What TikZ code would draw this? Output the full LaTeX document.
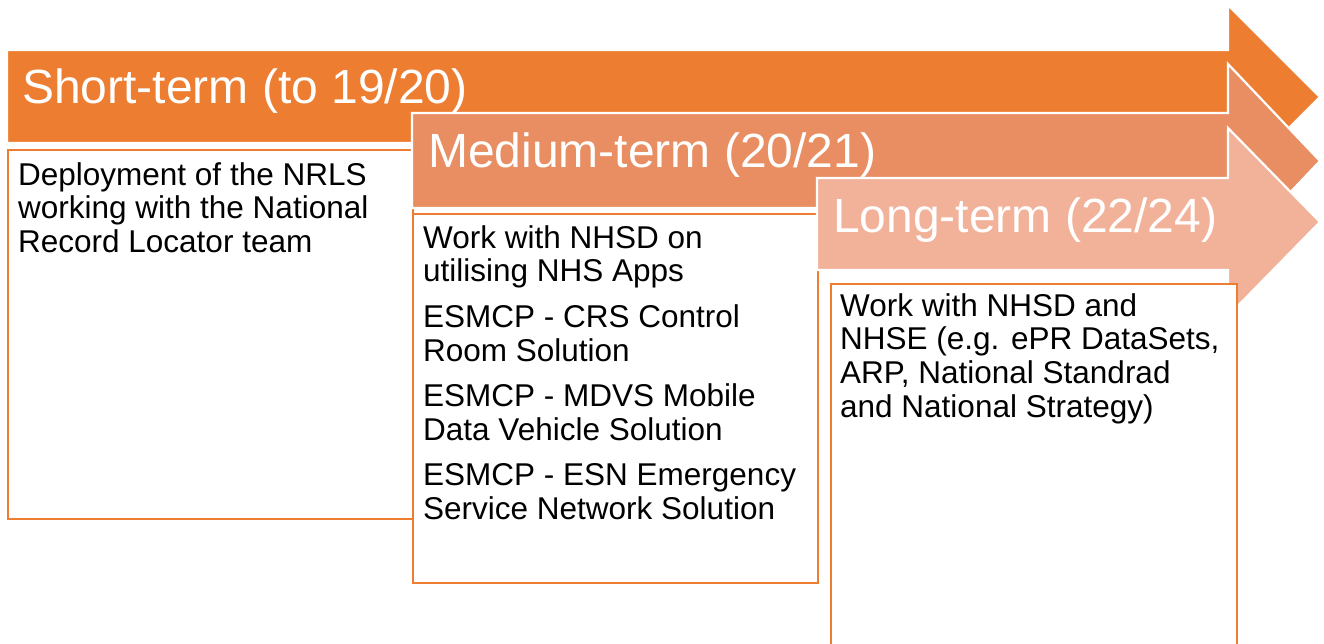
\documentclass[tikz,border=0pt]{standalone}
\usepackage{fontspec}
\setmainfont{Liberation Sans}
\definecolor{termdark}{HTML}{ED7D31}
\definecolor{termmid}{HTML}{E88E62}
\definecolor{termlight}{HTML}{F2B29A}
\definecolor{boxline}{HTML}{ED7D31}
\tikzset{
  x=1pt, y=-1pt,
  timearrow/.style={draw=white, line width=2.2pt, line join=miter},
  panel/.style={draw=boxline, line width=2pt, fill=white},
  heading/.style={anchor=base west, inner sep=0pt, text=white,
    font=\fontsize{48}{54}\selectfont},
  bodytext/.style={anchor=base west, inner sep=0pt, text=black},
}
\newcommand{\paneltext}[2]{\parbox[t]{#1}{\raggedright\fontsize{31.5}{33.8}\selectfont #2}}
\begin{document}
\begin{tikzpicture}
\useasboundingbox (0,0) rectangle (1324,643);
\clip (0,0) rectangle (1324,643);
\fill[white] (0,0) rectangle (1324,643);

% short-term arrow and its panel
\draw[timearrow, fill=termdark] (7,50) -- (1228,50) -- (1228,5) -- (1320,97)
  -- (1228,189) -- (1228,143) -- (7,143) -- cycle;
\node[heading] (h1) at (22,103) {Short-term (to 19/20)};
\node[panel, anchor=north west, minimum width=405pt, minimum height=369pt, inner sep=0pt]
  (p1) at (7,149) {};
\node[bodytext] (t1) at (18,185) {\paneltext{385pt}{Deployment of the NRLS\\
  working with the National\\ Record Locator team}};

% medium-term arrow and its panel
\draw[timearrow, fill=termmid] (412,113) -- (1228,113) -- (1228,64) -- (1320,161)
  -- (1228,258) -- (1228,208) -- (412,208) -- cycle;
\node[heading] (h2) at (428,167) {Medium-term (20/21)};
\node[panel, anchor=north west, minimum width=405pt, minimum height=369pt, inner sep=0pt]
  (p2) at (412,213) {};
\node[bodytext] (t2) at (423,248) {\paneltext{385pt}{\setlength{\parskip}{11.7pt}%
  Work with NHSD on\\ utilising NHS Apps\par
  ESMCP - CRS Control\\ Room Solution\par
  ESMCP - MDVS Mobile\\ Data Vehicle Solution\par
  ESMCP - ESN Emergency\\ Service Network Solution}};

% long-term arrow and its panel
\draw[timearrow, fill=termlight] (817,178) -- (1228,178) -- (1228,128) -- (1320,222)
  -- (1228,316) -- (1228,270) -- (817,270) -- cycle;
\node[heading] (h3) at (833,232) {Long-term (22/24)};
\node[panel, anchor=north west, minimum width=406pt, minimum height=380pt, inner sep=0pt]
  (p3) at (830,283) {};
\node[bodytext] (t3) at (840,316) {\paneltext{390pt}{Work with NHSD and\\
  NHSE (e.g. ePR DataSets,\\ ARP, National Standrad\\ and National Strategy)}};
\end{tikzpicture}
\end{document}
